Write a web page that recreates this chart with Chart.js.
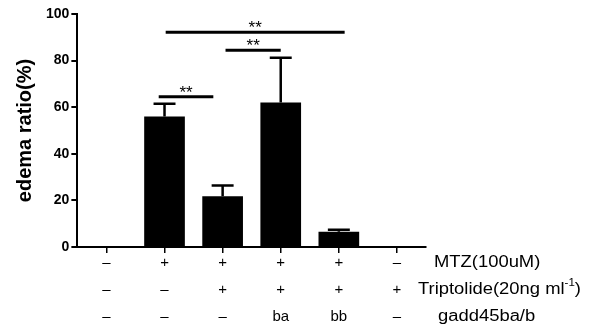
<!DOCTYPE html>
<html>
<head>
<meta charset="utf-8">
<script src="https://cdn.jsdelivr.net/npm/chart.js@4"></script>
<style>
html,body{margin:0;padding:0;background:#fff;overflow:hidden;}
canvas{display:block;}
</style>
</head>
<body>
<canvas id="c" width="591" height="327"></canvas>
<script>
// ---- data ----
const mtzRow = ['–', '+', '+', '+', '+', '–'];
const tripRow = ['–', '–', '+', '+', '+', '+'];
const gaddRow = ['–', '–', '–', 'ba', 'bb', '–'];
const rowNames = ['MTZ(100uM)', 'Triptolide(20ng ml', 'gadd45ba/b'];
const edemaRatio = [0, 56, 21.8, 62, 6.5, 0];
const errorPlus = [0, 5.5, 4.6, 19.2, 0.9, 0];
const sigFrom = [1.02, 2.05, 0.9];
const sigTo = [4.1, 3.0, 1.84];
const sigLevel = [92.2, 84.4, 64.5];
const sigText = ['**', '**', '**'];
const yTicks = [0, 20, 40, 60, 80, 100];

const categories = mtzRow.map((m, i) => [m, tripRow[i], gaddRow[i]]);
const FONT = "'Liberation Sans', Arial, sans-serif";
const LINE_H = 27;
const TICK_LEN = 6;
const TICK_PAD = -4;

const overlay = {
  id: 'overlay',
  afterDatasetsDraw(chart) {
    const ctx = chart.ctx;
    const x = chart.scales.x, y = chart.scales.y;
    const meta = chart.getDatasetMeta(0);
    ctx.save();
    ctx.strokeStyle = '#000';
    ctx.lineWidth = 2.5;
    ctx.lineCap = 'butt';
    // error bars (upper only)
    meta.data.forEach((bar, i) => {
      if (!errorPlus[i]) return;
      const top = y.getPixelForValue(edemaRatio[i] + errorPlus[i]);
      const half = bar.width * 0.27;
      ctx.beginPath();
      ctx.moveTo(bar.x, bar.y);
      ctx.lineTo(bar.x, top);
      ctx.moveTo(bar.x - half, top);
      ctx.lineTo(bar.x + half, top);
      ctx.stroke();
    });
    // significance lines
    ctx.lineWidth = 3;
    ctx.fillStyle = '#000';
    ctx.font = '17px ' + FONT;
    ctx.textAlign = 'center';
    ctx.textBaseline = 'alphabetic';
    sigLevel.forEach((lv, i) => {
      const x0 = x.getPixelForValue(sigFrom[i]);
      const x1 = x.getPixelForValue(sigTo[i]);
      const py = y.getPixelForValue(lv);
      ctx.beginPath();
      ctx.moveTo(x0, py);
      ctx.lineTo(x1, py);
      ctx.stroke();
      ctx.fillText(sigText[i], (x0 + x1) / 2, py + 1);
    });
    ctx.restore();
  },
  afterDraw(chart) {
    const ctx = chart.ctx;
    const x = chart.scales.x;
    ctx.save();
    ctx.fillStyle = '#000';
    ctx.textBaseline = 'middle';
    ctx.textAlign = 'left';
    const base = x.top + TICK_LEN + TICK_PAD + LINE_H / 2;
    const startX = [434, 418, 438];
    rowNames.forEach((name, i) => {
      const cy = base + i * LINE_H;
      ctx.save();
      ctx.translate(startX[i], cy);
      ctx.scale(1.15, 1);
      ctx.font = '16px ' + FONT;
      ctx.fillText(name, 0, 0);
      if (i === 1) {
        let w = ctx.measureText(name).width;
        ctx.font = '10px ' + FONT;
        ctx.fillText('-1', w, -6);
        w += ctx.measureText('-1').width;
        ctx.font = '16px ' + FONT;
        ctx.fillText(')', w, 0);
      }
      ctx.restore();
    });
    ctx.restore();
  }
};

new Chart(document.getElementById('c'), {
  type: 'bar',
  data: {
    labels: categories,
    datasets: [{
      data: edemaRatio,
      backgroundColor: '#000',
      borderWidth: 0,
      barPercentage: 0.70,
      categoryPercentage: 1.0
    }]
  },
  options: {
    responsive: false,
    devicePixelRatio: 1,
    animation: false,
    events: [],
    layout: { padding: { left: 4, right: 165, top: 14, bottom: 1 } },
    plugins: { legend: { display: false }, tooltip: { enabled: false } },
    scales: {
      x: {
        offset: true,
        grid: { display: true, drawOnChartArea: false, offset: false, tickLength: TICK_LEN, color: '#000', lineWidth: 1.5 },
        border: { color: '#000', width: 2 },
        ticks: {
          color: '#000',
          font: { family: FONT, size: 15, lineHeight: LINE_H + 'px' },
          padding: TICK_PAD,
          maxRotation: 0, autoSkip: false
        }
      },
      y: {
        min: 0, max: 100,
        afterBuildTicks: (s) => { s.ticks = yTicks.map(v => ({ value: v })); },
        grid: { display: true, drawOnChartArea: false, tickLength: 6, color: '#000', lineWidth: 2 },
        border: { color: '#000', width: 2 },
        ticks: { color: '#000', font: { family: FONT, size: 14, weight: 'bold' }, padding: 2 },
        title: {
          display: true, text: 'edema ratio(%)', color: '#000',
          font: { family: FONT, size: 20, weight: 'bold', lineHeight: 1.2 },
          padding: { top: 9, bottom: 7 }
        }
      }
    }
  },
  plugins: [overlay]
});
</script>
</body>
</html>
